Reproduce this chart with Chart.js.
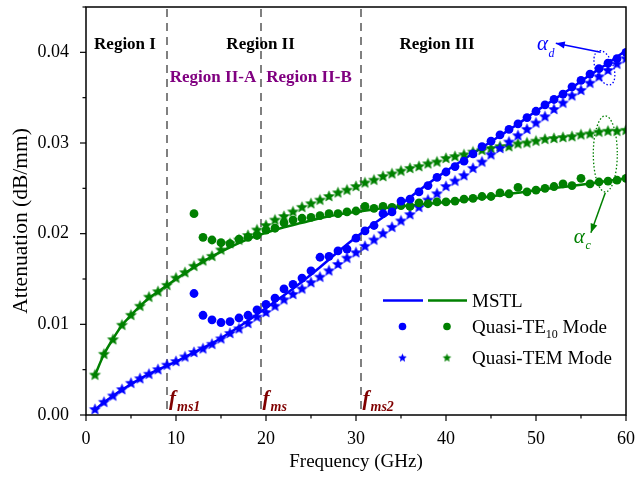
<!DOCTYPE html>
<html><head><meta charset="utf-8">
<script src="https://cdn.jsdelivr.net/npm/chart.js@4/dist/chart.umd.min.js"></script>
<style>html,body{margin:0;padding:0;background:#fff}</style>
</head><body>
<canvas id="c" width="638" height="479" style="width:638px;height:479px;display:block"></canvas>
<script>
// ---------- DATA ----------
const freqAll = [1,2,3,4,5,6,7,8,9,10,11,12,13,14,15,16,17,18,19,20,21,22,23,24,25,26,27,28,29,30,31,32,33,34,35,36,37,38,39,40,41,42,43,44,45,46,47,48,49,50,51,52,53,54,55,56,57,58,59,60];
const freqTE = [12,13,14,15,16,17,18,19,20,21,22,23,24,25,26,27,28,29,30,31,32,33,34,35,36,37,38,39,40,41,42,43,44,45,46,47,48,49,50,51,52,53,54,55,56,57,58,59,60];
const blueTEM = [0.0006,0.0014,0.0021,0.0028,0.0035,0.0040,0.0045,0.0050,0.0055,0.0059,0.0064,0.0069,0.0073,0.0078,0.0084,0.0090,0.0095,0.0101,0.0108,0.0113,0.0120,0.0127,0.0133,0.0139,0.0146,0.0152,0.0159,0.0166,0.0173,0.0179,0.0186,0.0193,0.0200,0.0207,0.0214,0.0221,0.0229,0.0237,0.0244,0.0252,0.0258,0.0264,0.0272,0.0279,0.0287,0.0294,0.0301,0.0308,0.0315,0.0322,0.0329,0.0337,0.0344,0.0352,0.0358,0.0366,0.0373,0.0380,0.0387,0.0393];
const greenTEM = [0.0044,0.0067,0.0083,0.0099,0.0110,0.0120,0.0130,0.0136,0.0143,0.0151,0.0157,0.0164,0.0170,0.0175,0.0182,0.0189,0.0193,0.0198,0.0204,0.0209,0.0215,0.0219,0.0224,0.0229,0.0233,0.0237,0.0241,0.0245,0.0248,0.0252,0.0256,0.0259,0.0263,0.0266,0.0269,0.0272,0.0274,0.0277,0.0279,0.0283,0.0285,0.0287,0.0290,0.0292,0.0294,0.0296,0.0296,0.0299,0.0300,0.0302,0.0304,0.0305,0.0306,0.0307,0.0309,0.0310,0.0312,0.0313,0.0313,0.0314];
const blueTE = [0.0134,0.0110,0.0105,0.0102,0.0103,0.0107,0.0110,0.0116,0.0122,0.0129,0.0139,0.0144,0.0151,0.0159,0.0174,0.0175,0.0181,0.0183,0.0195,0.0203,0.0209,0.0222,0.0224,0.0236,0.0238,0.0246,0.0253,0.0262,0.0268,0.0274,0.0280,0.0288,0.0296,0.0302,0.0309,0.0315,0.0321,0.0328,0.0335,0.0342,0.0348,0.0354,0.0362,0.0369,0.0376,0.0382,0.0388,0.0393,0.0400];
const greenTE = [0.0222,0.0196,0.0193,0.0190,0.0189,0.0194,0.0196,0.0198,0.0204,0.0206,0.0212,0.0215,0.0217,0.0218,0.0220,0.0222,0.0222,0.0224,0.0225,0.0230,0.0228,0.0230,0.0229,0.0231,0.0230,0.0234,0.0233,0.0235,0.0235,0.0236,0.0238,0.0239,0.0241,0.0241,0.0245,0.0244,0.0251,0.0246,0.0248,0.0250,0.0252,0.0255,0.0253,0.0261,0.0255,0.0257,0.0258,0.0259,0.0261];
const freqLineBlue = [1,2,3,4,5,6,8,10,12,14,16,18,20,22,24,26,28,30,32,34,36,38,40,42,44,46,48,50,52,54,56,58,60];
const blueMSTL = [0.0006,0.0014,0.0021,0.0028,0.0034,0.0040,0.0050,0.0059,0.0069,0.0079,0.0091,0.0104,0.0118,0.0132,0.0147,0.0163,0.0180,0.0196,0.0211,0.0225,0.0240,0.0255,0.0269,0.0282,0.0295,0.0308,0.0321,0.0335,0.0348,0.0361,0.0375,0.0388,0.0402];
const freqLineGreen = [1,2,3,4,5,6,7,8,9,10,12,14,16,18,20,22,24,26,28,30,33,36,40,45,50,55,60];
const greenMSTL = [0.0044,0.0067,0.0084,0.0099,0.0110,0.0120,0.0129,0.0136,0.0143,0.0150,0.0163,0.0175,0.0185,0.0194,0.0201,0.0207,0.0212,0.0217,0.0221,0.0224,0.0228,0.0231,0.0235,0.0241,0.0248,0.0254,0.0261];
const boundaryFreqs = [9, 19.4, 30.5];
const boundaryLabels = [['f','ms1'],['f','ms'],['f','ms2']];
const xTicks = [0,10,20,30,40,50,60];
const yTicks = [0.00,0.01,0.02,0.03,0.04];

// ---------- helpers ----------
const BLUE = '#0000ff', GREEN = '#008000';
const SERIF = '"Liberation Serif", "Times New Roman", serif';
function pts(xs, ys){ return xs.map((x,i)=>({x:x, y:ys[i]})); }
function starCanvas(color, r){
  const s = Math.ceil(r*2+2);
  const c = document.createElement('canvas'); c.width = s; c.height = s;
  const g = c.getContext('2d'); g.fillStyle = color; g.beginPath();
  for(let i=0;i<10;i++){
    const rad = (i%2) ? r*0.45 : r;
    const a = -Math.PI/2 + i*Math.PI/5;
    g.lineTo(s/2 + rad*Math.cos(a), s/2 + rad*Math.sin(a));
  }
  g.closePath(); g.fill();
  return c;
}
const starBlue = starCanvas(BLUE, 6.3), starGreen = starCanvas(GREEN, 6.3);
const starBlueS = starCanvas(BLUE, 4.5), starGreenS = starCanvas(GREEN, 4.5);

function arrow(ctx, x1, y1, x2, y2, color){
  ctx.save(); ctx.strokeStyle = color; ctx.fillStyle = color; ctx.lineWidth = 1.5;
  ctx.beginPath(); ctx.moveTo(x1,y1); ctx.lineTo(x2,y2); ctx.stroke();
  const a = Math.atan2(y2-y1, x2-x1), L = 9, W = 3.5;
  ctx.beginPath(); ctx.moveTo(x2,y2);
  ctx.lineTo(x2 - L*Math.cos(a) + W*Math.sin(a), y2 - L*Math.sin(a) - W*Math.cos(a));
  ctx.lineTo(x2 - L*Math.cos(a) - W*Math.sin(a), y2 - L*Math.sin(a) + W*Math.cos(a));
  ctx.closePath(); ctx.fill(); ctx.restore();
}
function zeroPad(s){ s.paddingTop = 0; s.paddingBottom = 0; s.paddingLeft = 0; s.paddingRight = 0; }

const deco = {
  id: 'deco',
  beforeDatasetsDraw(chart){
    const {ctx, chartArea:a, scales:{x, y}} = chart;
    ctx.save();
    ctx.strokeStyle = '#808080'; ctx.lineWidth = 2; ctx.setLineDash([8,6]);
    boundaryFreqs.forEach(f=>{
      const px = Math.round(x.getPixelForValue(f));
      ctx.beginPath(); ctx.moveTo(px, a.top+2); ctx.lineTo(px, a.bottom); ctx.stroke();
    });
    ctx.restore();
  },
  afterDatasetsDraw(chart){
    const {ctx, chartArea:a, scales:{x, y}} = chart;
    ctx.save();
    // frame
    ctx.strokeStyle = '#000'; ctx.lineWidth = 1.5;
    ctx.strokeRect(a.left, a.top, a.right-a.left, a.bottom-a.top);
    // ticks
    ctx.lineWidth = 1.2;
    for(let v=0; v<=60; v+=5){
      const px = x.getPixelForValue(v); const L = (v%10===0)?6:3.5;
      ctx.beginPath(); ctx.moveTo(px, a.bottom); ctx.lineTo(px, a.bottom+L); ctx.stroke();
    }
    for(let k=0; k<=9; k++){
      const v = k*0.005; const py = y.getPixelForValue(v); const L = (k%2===0)?6:3.5;
      ctx.beginPath(); ctx.moveTo(a.left, py); ctx.lineTo(a.left-L, py); ctx.stroke();
    }
    // y axis title
    ctx.save();
    ctx.translate(21, 221); ctx.rotate(-Math.PI/2);
    ctx.fillStyle = '#000'; ctx.font = '21.5px ' + SERIF; ctx.textAlign = 'center'; ctx.textBaseline = 'middle';
    ctx.fillText('Attenuation (dB/mm)', 0, 0);
    ctx.restore();
    // region labels
    ctx.fillStyle = '#000'; ctx.font = 'bold 17px ' + SERIF; ctx.textAlign = 'center'; ctx.textBaseline = 'middle';
    ctx.fillText('Region I', 125, 45);
    ctx.fillText('Region II', x.getPixelForValue(19.4), 45);
    ctx.fillText('Region III', 437, 45);
    ctx.fillStyle = '#800080';
    ctx.fillText('Region II-A', 213, 78);
    ctx.fillText('Region II-B', 309, 78);
    // f labels
    ctx.textAlign = 'left'; ctx.textBaseline = 'alphabetic'; ctx.fillStyle = '#800000';
    boundaryFreqs.forEach((f,i)=>{
      const px = x.getPixelForValue(f) + 2;
      ctx.font = 'italic bold 21px ' + SERIF; ctx.fillText(boundaryLabels[i][0], px, 405);
      const w = ctx.measureText(boundaryLabels[i][0]).width;
      ctx.font = 'italic bold 14px ' + SERIF; ctx.fillText(boundaryLabels[i][1], px + w + 1, 411);
    });
    // alpha annotations
    ctx.setLineDash([1.5,2]); ctx.lineWidth = 1.3;
    ctx.strokeStyle = BLUE;
    ctx.beginPath(); ctx.ellipse(x.getPixelForValue(57.6), y.getPixelForValue(0.0383), 9, 18, -0.35, 0, Math.PI*2); ctx.stroke();
    ctx.strokeStyle = GREEN;
    ctx.beginPath(); ctx.ellipse(x.getPixelForValue(57.7), y.getPixelForValue(0.0288), 12, 38, 0, 0, Math.PI*2); ctx.stroke();
    ctx.setLineDash([]);
    arrow(ctx, x.getPixelForValue(57.2), y.getPixelForValue(0.0400), x.getPixelForValue(52.2), y.getPixelForValue(0.0410), BLUE);
    arrow(ctx, x.getPixelForValue(57.7), y.getPixelForValue(0.0245), x.getPixelForValue(56.1), y.getPixelForValue(0.0201), GREEN);
    ctx.fillStyle = BLUE; ctx.font = 'italic 21px ' + SERIF;
    ctx.fillText('\u03b1', x.getPixelForValue(50.1), y.getPixelForValue(0.0403));
    ctx.font = 'italic 12px ' + SERIF; ctx.fillText('d', x.getPixelForValue(51.4), y.getPixelForValue(0.0395));
    ctx.fillStyle = GREEN; ctx.font = 'italic 21px ' + SERIF;
    ctx.fillText('\u03b1', x.getPixelForValue(54.2), y.getPixelForValue(0.0190));
    ctx.font = 'italic 12px ' + SERIF; ctx.fillText('c', x.getPixelForValue(55.5), y.getPixelForValue(0.0183));
    // legend
    ctx.lineWidth = 2.5;
    ctx.strokeStyle = BLUE; ctx.beginPath(); ctx.moveTo(383,300.5); ctx.lineTo(423,300.5); ctx.stroke();
    ctx.strokeStyle = GREEN; ctx.beginPath(); ctx.moveTo(428,300.5); ctx.lineTo(467,300.5); ctx.stroke();
    ctx.fillStyle = BLUE; ctx.beginPath(); ctx.arc(402.5,326.5,3.8,0,Math.PI*2); ctx.fill();
    ctx.fillStyle = GREEN; ctx.beginPath(); ctx.arc(447,326.5,3.8,0,Math.PI*2); ctx.fill();
    ctx.drawImage(starBlueS, 402.5 - starBlueS.width/2, 358 - starBlueS.height/2);
    ctx.drawImage(starGreenS, 447 - starGreenS.width/2, 358 - starGreenS.height/2);
    ctx.fillStyle = '#000'; ctx.font = '19px ' + SERIF; ctx.textAlign = 'left';
    ctx.fillText('MSTL', 472, 307);
    ctx.fillText('Quasi-TE', 472, 333);
    let w = ctx.measureText('Quasi-TE').width;
    ctx.font = '12px ' + SERIF; ctx.fillText('10', 472 + w, 338);
    const w2 = ctx.measureText('10').width;
    ctx.font = '19px ' + SERIF; ctx.fillText(' Mode', 472 + w + w2, 333);
    ctx.fillText('Quasi-TEM Mode', 472, 364);
    ctx.restore();
  }
};

new Chart(document.getElementById('c'), {
  type: 'scatter',
  data: { datasets: [
    { label:'MSTL (blue)', data: pts(freqLineBlue, blueMSTL), showLine:true, borderColor:BLUE, borderWidth:2.5, pointRadius:0, tension:0.4, cubicInterpolationMode:'monotone', order:3 },
    { label:'MSTL (green)', data: pts(freqLineGreen, greenMSTL), showLine:true, borderColor:GREEN, borderWidth:2.5, pointRadius:0, tension:0.4, cubicInterpolationMode:'monotone', order:3 },
    { label:'Quasi-TE10 (blue)', data: pts(freqTE, blueTE), pointStyle:'circle', pointRadius:4.4, backgroundColor:BLUE, borderColor:BLUE, borderWidth:0, order:1 },
    { label:'Quasi-TE10 (green)', data: pts(freqTE, greenTE), pointStyle:'circle', pointRadius:4.4, backgroundColor:GREEN, borderColor:GREEN, borderWidth:0, order:1 },
    { label:'Quasi-TEM (blue)', data: pts(freqAll, blueTEM), pointStyle:starBlue, pointRadius:6, order:2 },
    { label:'Quasi-TEM (green)', data: pts(freqAll, greenTEM), pointStyle:starGreen, pointRadius:6, order:2 }
  ]},
  options: {
    responsive:false, animation:false, devicePixelRatio:1,
    layout:{ padding:{ left:0, right:12, top:7, bottom:0 } },
    plugins:{ legend:{display:false}, tooltip:{enabled:false} },
    scales:{
      x:{ type:'linear', min:0, max:60,
        grid:{display:false, drawTicks:false}, border:{display:false},
        afterBuildTicks(s){ s.ticks = xTicks.map(v=>({value:v})); },
        ticks:{ autoSkip:false, maxRotation:0, padding:13, color:'#000', font:{family:SERIF, size:18}, callback:v=>String(v) },
        title:{ display:true, text:'Frequency (GHz)', color:'#000', font:{family:SERIF, size:19}, padding:{top:0,bottom:6} },
        afterFit(s){ s.height = 64; zeroPad(s); }
      },
      y:{ type:'linear', min:0, max:0.045,
        grid:{display:false, drawTicks:false}, border:{display:false},
        afterBuildTicks(s){ s.ticks = yTicks.map(v=>({value:v})); },
        ticks:{ autoSkip:false, padding:17, color:'#000', font:{family:SERIF, size:18}, callback:v=>Number(v).toFixed(2) },
        title:{ display:false, text:'Attenuation (dB/mm)' },
        afterFit(s){ s.width = 86; zeroPad(s); }
      }
    }
  },
  plugins:[deco]
});
</script>
</body></html>
